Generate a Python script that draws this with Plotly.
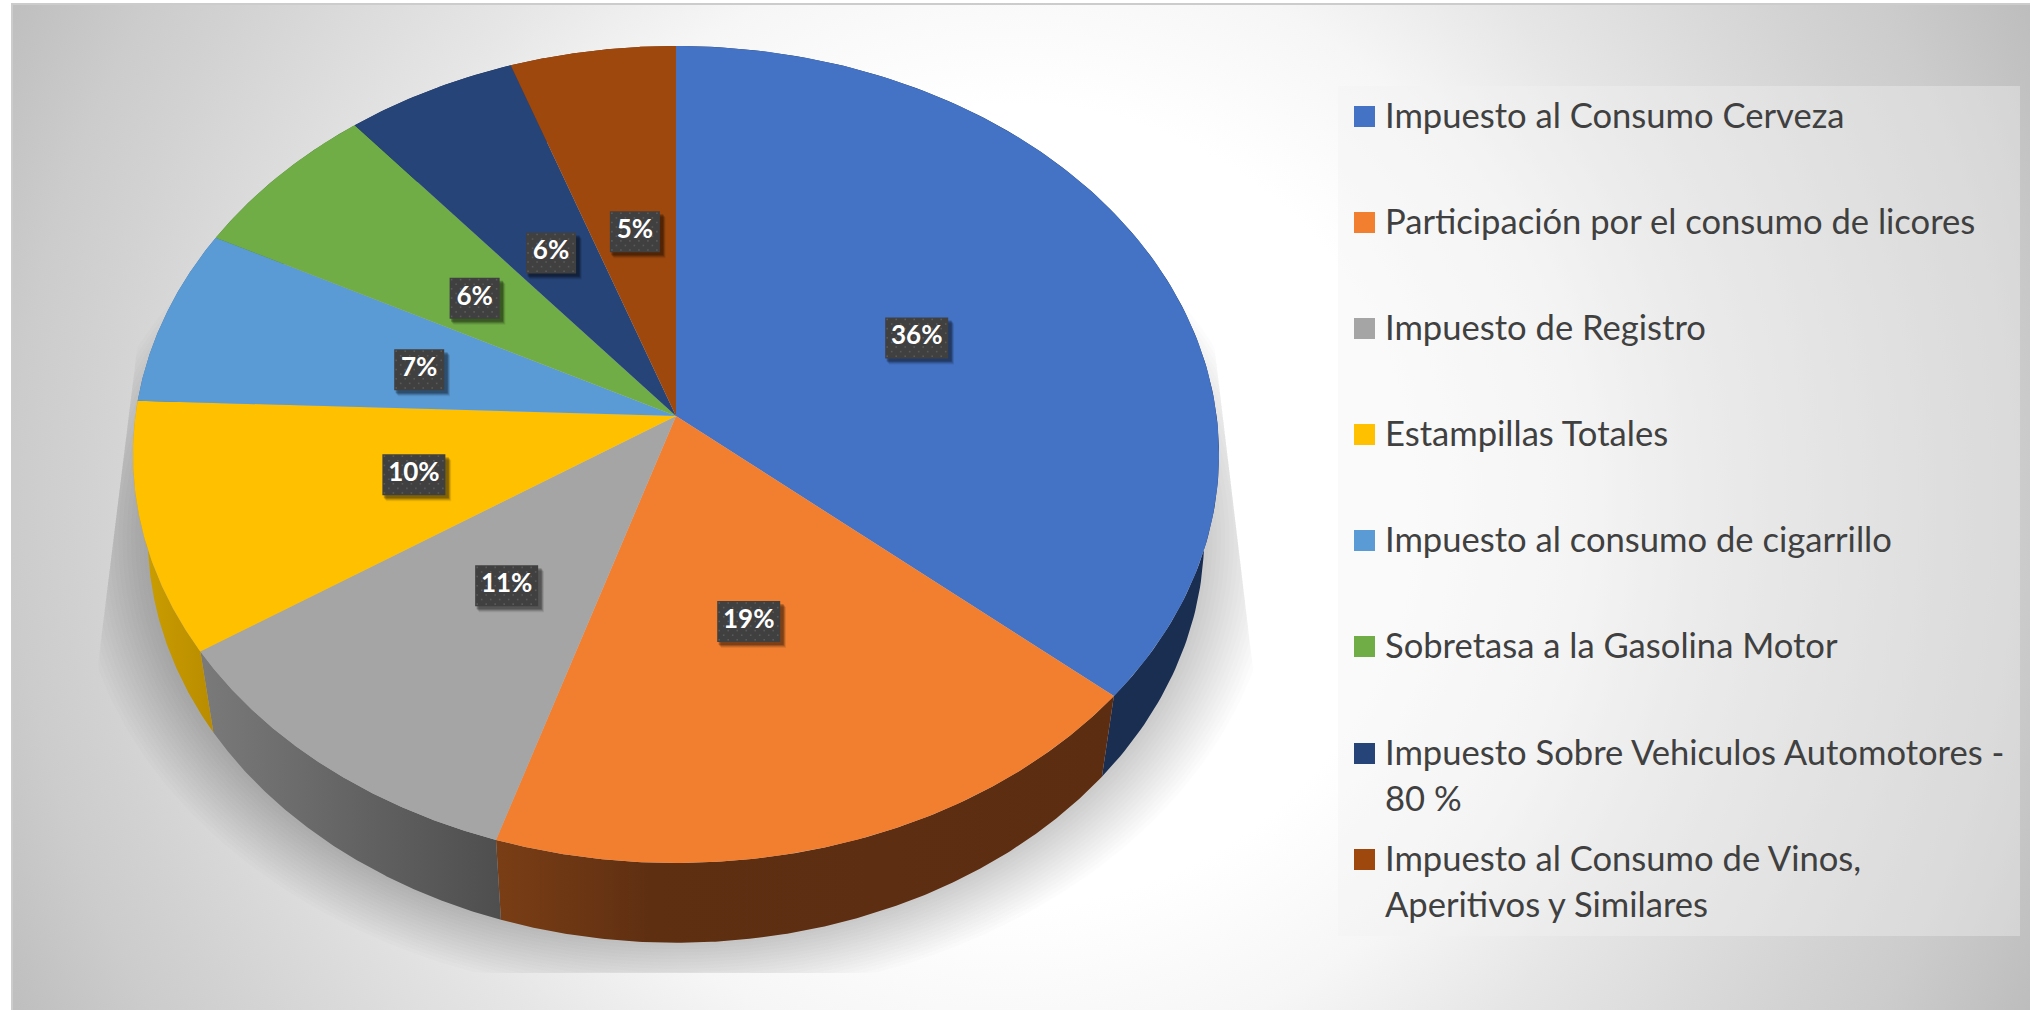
import numpy as np
import plotly.graph_objects as go

# ---------- data ----------
CATEGORIES = ["Impuesto al Consumo Cerveza", "Participación por el consumo de licores",
              "Impuesto de Registro", "Estampillas Totales", "Impuesto al consumo de cigarrillo",
              "Sobretasa a la Gasolina Motor", "Impuesto Sobre Vehiculos Automotores - 80 %",
              "Impuesto al Consumo de Vinos, Aperitivos y Similares"]
VALUES = [36.25, 18.65, 10.8, 9.9, 7.0, 6.4, 5.6, 5.4]
COLORS = ["#4472C4", "#F27F30", "#A5A5A5", "#FFC000", "#5B9BD5", "#70AD47", "#264478", "#9E480E"]
SIDE_STOPS = [[[0, "#1A2E52"], [1, "#1A2E52"]],
              [[0, "#7A3E15"], [0.25, "#5F2F12"], [1, "#5C2D11"]],
              [[0, "#7A7A7A"], [1, "#4E4E4E"]],
              [[0, "#CDA000"], [1, "#B98C00"]],
              [[0, "#3F6C95"], [1, "#3F6C95"]],
              [[0, "#4E7A32"], [1, "#4E7A32"]],
              [[0, "#1A3054"], [1, "#1A3054"]],
              [[0, "#6F320A"], [1, "#6F320A"]]]
LEGEND_LINES = [["Impuesto al Consumo Cerveza"], ["Participación por el consumo de licores"],
                ["Impuesto de Registro"], ["Estampillas Totales"], ["Impuesto al consumo de cigarrillo"],
                ["Sobretasa a la Gasolina Motor"], ["Impuesto Sobre Vehiculos Automotores -", "80 %"],
                ["Impuesto al Consumo de Vinos,", "Aperitivos y Similares"]]

# ---------- geometry (axes are in picture pixels) ----------
W, H = 2030, 1010
CX, CY = 676, 416
RX, RY, K = 540.6, 404.9, 0.0942
FONT = "Lato"


def top(theta, r=1.0):
    u, v = r * np.sin(theta), r * np.cos(theta)
    d = 1 + K * v
    return CX + RX * u / d, CY - RY * v / d


def bottom(theta):
    x, y = top(theta)
    return CX + (x - CX) * 0.9727, CY + (y - CY) * 0.995 + 82


edges = np.cumsum([0] + VALUES) / sum(VALUES) * 2 * np.pi

fig = go.Figure()


def poly(x, y, color, **kw):
    fig.add_trace(go.Scatter(x=list(x), y=list(y), mode="lines", fill="toself", fillcolor=color,
                             line=dict(width=0), hoverinfo="skip", showlegend=False, **kw))


# background: radial gradient centred on the picture
BX, BY, BR = 1015, 505, 1200
stops = [(0, "#ffffff"), (400, "#ffffff"), (560, "#f6f6f6"), (700, "#e6e6e6"), (924, "#d2d2d2"),
         (1000, "#cccccc"), (1133, "#bdbdbd"), (1200, "#b5b5b5")]
fig.add_trace(go.Scatter(
    x=[BX - BR, BX + BR, BX + BR, BX - BR, BX - BR], y=[BY - BR, BY - BR, BY + BR, BY + BR, BY - BR],
    mode="lines", fill="toself", line=dict(width=0), hoverinfo="skip", showlegend=False,
    fillgradient=dict(type="radial", colorscale=[[d / BR, c] for d, c in stops])))

# legend panel
poly([1338, 2020, 2020, 1338, 1338], [86, 86, 936, 936, 86], "rgba(242,242,242,0.39)")

# soft shadow: stacked translucent outlines, cut by the wedge lines and floor
t = np.linspace(0, 2 * np.pi, 361)
for g in np.linspace(72, 0, 18):
    bx, by = bottom(t)
    sx = CX + (bx - CX) * (1 + g / 527)
    sy = CY + 30 + (by - CY - 30) * (1 + g / 640)
    left = 140 - 0.1235 * (sy - 323)
    right = 1227 + 0.12 * (sy - 450)
    poly(np.clip(sx, left, right), np.minimum(sy, 973), "rgba(0,0,0,0.0135)")

# side walls
for i, col in enumerate(COLORS):
    th = np.linspace(edges[i], edges[i + 1], 160)
    tx, ty = top(th)
    bx, by = bottom(th)
    fig.add_trace(go.Scatter(
        x=np.r_[tx, bx[::-1], tx[0]], y=np.r_[ty, by[::-1], ty[0]], mode="lines", fill="toself",
        line=dict(width=0), hoverinfo="skip", showlegend=False,
        fillgradient=dict(type="horizontal", colorscale=SIDE_STOPS[i])))

# top faces
for i, col in enumerate(COLORS):
    th = np.linspace(edges[i], edges[i + 1], 160)
    tx, ty = top(th)
    poly(np.r_[CX, tx, CX], np.r_[CY, ty, CY], col, name=CATEGORIES[i])


# data labels
def rects(cx, cy, hw, hh):
    xs, ys = [], []
    for a, b, w in zip(cx, cy, hw):
        xs += [a - w, a + w, a + w, a - w, a - w, None]
        ys += [b - hh, b - hh, b + hh, b + hh, b - hh, None]
    return xs, ys


mids = (edges[:-1] + edges[1:]) / 2
lx, ly = top(mids, 0.5)
ly = ly + 1.5 + 5 * (np.cos(mids) + 1) / 2
lx = lx + np.array([0, -5, 0, 1.5, 1.5, 3, 3, 2.5])
label_text = [f"{round(v)}%" for v in VALUES]
half_w = [31.5 if len(s) > 2 else 25 for s in label_text]
for off, a in [(6, 0.08), (5, 0.12), (4, 0.18), (3, 0.22)]:
    xs, ys = rects(lx + off * 0.8, ly + off, [h + 1 for h in half_w], 20.5)
    poly(xs, ys, f"rgba(0,0,0,{a})")
xs, ys = rects(lx, ly, half_w, 20.5)
poly(xs, ys, "#404040")
dx, dy = [], []
for a, b, h in zip(lx, ly, half_w):
    for row, yy in enumerate(np.arange(b - 18.5, b + 19, 4.6)):
        for xx in np.arange(a - h + 2 + (row % 2) * 4.5, a + h - 1, 9):
            dx.append(xx)
            dy.append(yy)
fig.add_trace(go.Scatter(x=dx, y=dy, mode="markers", hoverinfo="skip", showlegend=False,
                         marker=dict(symbol="square", size=1.6, color="#5A5A5A", line=dict(width=0))))
fig.add_trace(go.Scatter(x=lx, y=ly, mode="text", text=label_text, textposition="middle center",
                         textfont=dict(family=FONT, size=26, color="#FFFFFF", weight="bold"),
                         hoverinfo="skip", showlegend=False))

# legend
ROW_Y = [116.5, 222.5, 328.5, 434.5, 540.5, 646.5, 753.5, 859.5]
LINE_H = 46
TEXT_DY = 2.5
fig.add_trace(go.Scatter(x=[1364.5] * len(ROW_Y), y=ROW_Y, mode="markers", hoverinfo="skip", showlegend=False,
                         marker=dict(symbol="square", size=21, color=COLORS, line=dict(width=0))))
tx_, ty_, tt_ = [], [], []
for y0, lines in zip(ROW_Y, LEGEND_LINES):
    for j, s in enumerate(lines):
        tx_.append(1385)
        ty_.append(y0 + TEXT_DY + j * LINE_H)
        tt_.append(s)
fig.add_trace(go.Scatter(x=tx_, y=ty_, mode="text", text=tt_, textposition="middle right",
                         textfont=dict(family=FONT, size=34.6, color="#404040"),
                         hoverinfo="skip", showlegend=False))

fig.update_layout(
    width=W, height=H, margin=dict(l=13, r=0, t=5, b=0), paper_bgcolor="#FFFFFF", plot_bgcolor="#FFFFFF",
    showlegend=False,
    xaxis=dict(range=[13, W], visible=True, showgrid=False, zeroline=False, showticklabels=False, ticks="",
               side="top", showline=True, linecolor="#CCCCCC", linewidth=2),
    yaxis=dict(range=[H, 5], visible=True, showgrid=False, zeroline=False, showticklabels=False, ticks="",
               showline=True, linecolor="#CCCCCC", linewidth=2),
)

fig.write_html("out.html", config={"displayModeBar": False},
               post_script="document.body.style.margin='0';document.body.style.overflow='hidden';")
